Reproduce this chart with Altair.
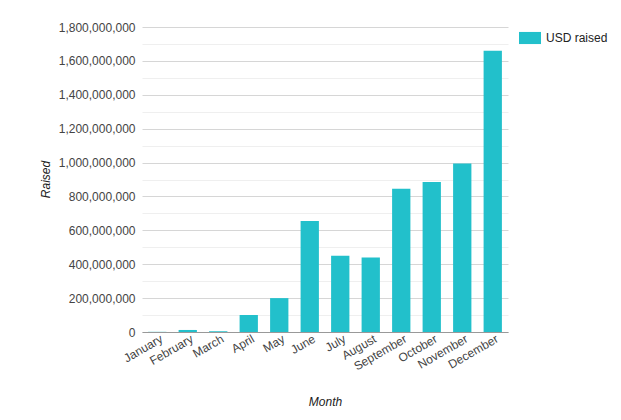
import altair as alt
import pandas as pd

months = ["January", "February", "March", "April", "May", "June", "July",
          "August", "September", "October", "November", "December"]
usd_raised = [1_000_000, 12_000_000, 4_000_000, 100_000_000, 200_000_000, 655_000_000,
              450_000_000, 440_000_000, 845_000_000, 885_000_000, 995_000_000, 1_660_000_000]
y_ticks = list(range(0, 1_800_000_001, 100_000_000))
series_name = "USD raised"

df = pd.DataFrame({"Month": months, "Raised": usd_raised, "Series": [series_name] * len(months)})

color = "#22C0CB"

chart = alt.Chart(df).mark_bar(color=color).encode(
    x=alt.X("Month:N", sort=months, title="Month",
            scale=alt.Scale(paddingInner=0.4, paddingOuter=0.2),
            axis=alt.Axis(labelAngle=-30, labelAlign="right", labelBaseline="top",
                          labelPadding=1, labelOffset=2, ticks=False, domainColor="#999999",
                          labelColor="#444444", labelFontSize=12, labelFont="Liberation Sans",
                          titleFont="Liberation Sans", titleFontSize=12, titleFontStyle="italic",
                          titleFontWeight="normal", titleColor="#222222",
                          titleX=183, titleY=69, titleBaseline="middle")),
    y=alt.Y("Raised:Q", title="Raised",
            scale=alt.Scale(domain=[0, 1_800_000_000], nice=False),
            axis=alt.Axis(values=y_ticks, format=",d",
                          labelExpr="datum.value % 200000000 === 0 ? datum.label : ''",
                          ticks=False, domain=False, labelPadding=7,
                          labelColor="#444444", labelFontSize=12, labelFont="Liberation Sans",
                          gridColor={"condition": {"test": "datum.value % 200000000 === 0",
                                                   "value": "#d6d6d6"},
                                     "value": "#efefef"},
                          titleFont="Liberation Sans", titleFontSize=12, titleFontStyle="italic",
                          titleFontWeight="normal", titleColor="#222222",
                          titleX=-97, titleY=152, titleAngle=-90, titleBaseline="middle")),
    fill=alt.Fill("Series:N", scale=alt.Scale(range=[color]),
                  legend=alt.Legend(title=None, orient="none", legendX=377, legendY=0,
                                    symbolType="M-1,-0.55L1,-0.55L1,0.55L-1,0.55Z",
                                    symbolSize=484, symbolStrokeWidth=0,
                                    labelFont="Liberation Sans", labelFontSize=12,
                                    labelColor="#222222", labelOffset=5)),
).properties(
    width=366, height=305,
    padding={"left": 134, "top": 19, "right": 105, "bottom": 80},
    autosize=alt.AutoSizeParams(type="none"),
    background="#ffffff",
).configure_view(stroke=None)

chart.save("out.html", embed_options={"renderer": "svg", "actions": False})
